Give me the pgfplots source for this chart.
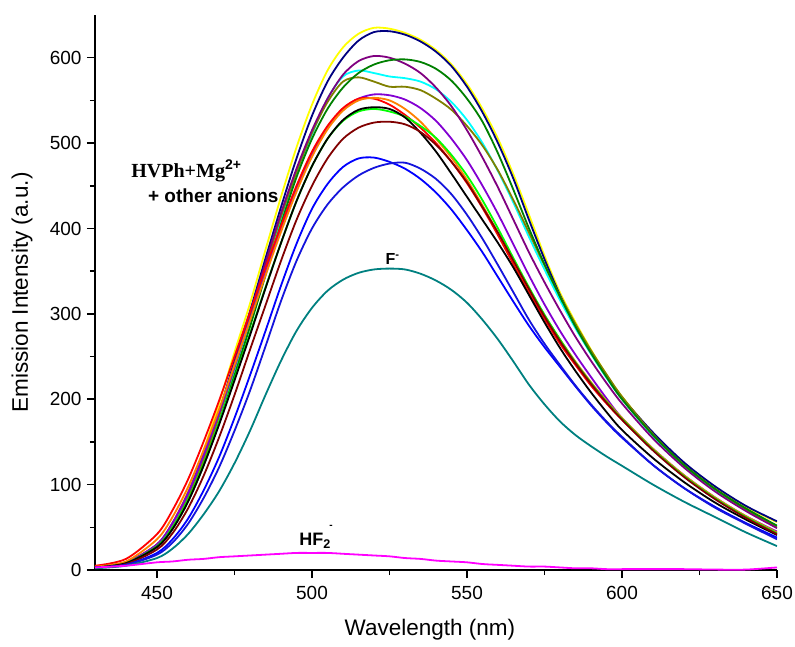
\documentclass[border=0pt]{standalone}
\usepackage{fontspec}
\setmainfont{Liberation Sans}
\newfontfamily\timesfont{Liberation Serif}
\usepackage{pgfplots}
\pgfplotsset{compat=1.18}
\usepackage{pgfplotstable}

\definecolor{cY}{RGB}{255,255,0}
\definecolor{cN}{RGB}{0,0,128}
\definecolor{cP}{RGB}{128,0,128}
\definecolor{cG}{RGB}{0,128,0}
\definecolor{cC}{RGB}{0,255,255}
\definecolor{cO}{RGB}{128,128,0}
\definecolor{cV}{RGB}{130,0,210}
\definecolor{cR}{RGB}{255,0,0}
\definecolor{cOr}{RGB}{255,128,0}
\definecolor{cK}{RGB}{0,0,0}
\definecolor{cL}{RGB}{0,255,0}
\definecolor{cB}{RGB}{128,0,0}
\definecolor{cBa}{RGB}{0,0,255}
\definecolor{cBb}{RGB}{20,20,220}
\definecolor{cT}{RGB}{0,128,128}
\definecolor{cM}{RGB}{255,0,255}

\pgfplotstableread{
x Y N P G C O V R Or K L B Ba Bb T M
430 4 3 4 3 3 3 4 5 4 3 3 3 3 3 2 3
440 9 8 9 8 8 8 9 13 10 8 8 7 6 6 5 5
450 30 27 30 27 28 28 30 42 36 27 28 24 20 18 14 9
455 55 50 55 48 50 50 55 70 62 48 50 43 36 32 25 10
460 92 85 90 80 84 84 90 106 97 80 82 72 60 54 42 12
465 140 132 135 122 128 128 134 150 140 122 124 110 93 84 65 13
470 195 185 185 172 178 180 184 198 188 170 172 155 132 120 92 15
475 255 245 242 228 234 237 238 250 240 222 224 205 178 163 125 16
480 312 303 300 285 292 296 293 302 292 275 277 258 228 210 163 17
485 375 365 360 345 352 356 348 354 345 330 331 310 280 262 205 18
490 437 425 418 405 410 414 400 403 396 383 383 362 333 315 245 19
495 495 482 470 460 462 466 447 450 443 432 432 410 382 362 280 20
500 545 532 515 505 510 512 487 490 484 473 473 450 423 400 307 20
505 585 572 552 540 552 548 518 520 516 505 505 482 452 428 327 20
510 612 600 580 565 578 572 540 541 538 527 526 505 472 448 340 19
515 628 620 596 582 585 577 552 552 550 539 537 518 482 462 348 18
520 635 630 602 592 582 572 557 552 553 542 540 524 483 471 352 17
525 634 631 600 597 578 566 556 545 550 540 537 525 478 476 353 16
530 629 627 593 598 576 566 551 533 540 530 531 522 470 477 352 14
535 621 619 582 595 572 562 541 518 525 512 520 513 458 470 347 13
540 609 607 565 587 563 552 526 500 505 490 506 498 442 458 339 11
545 592 590 543 573 548 539 505 478 483 464 486 478 422 440 328 10
550 569 566 515 552 527 520 480 453 457 437 462 454 398 416 313 9
555 540 536 483 525 500 497 450 424 427 410 433 425 372 388 293 7
560 505 500 448 488 467 468 417 392 395 383 400 395 343 357 270 6
565 463 458 410 445 430 433 381 358 362 354 365 362 314 325 244 5
570 416 410 372 400 390 395 345 325 329 322 331 329 286 293 217 4
575 368 364 337 358 352 357 311 294 298 290 299 297 261 265 194 4
580 325 322 304 320 316 321 280 265 270 260 270 268 238 240 174 3
585 290 287 273 285 283 288 252 240 244 233 243 242 215 216 158 2
590 258 256 245 254 253 257 226 216 220 208 219 218 193 194 145 2
595 229 228 219 226 225 229 201 195 198 185 197 196 173 174 133 1
600 203 202 195 200 200 203 178 176 178 164 177 176 155 156 122 1
610 160 161 154 158 157 159 142 141 142 131 141 140 123 123 100 1
620 125 126 120 123 122 123 111 110 111 103 110 109 96 96 80 1
630 97 98 92 95 94 95 85 84 85 79 84 83 74 73 62 0.5
640 74 75 69 72 71 71 63 62 63 59 62 61 55 54 44 0.5
650 56 57 49 52 51 50 45 43 44 41 43 42 38 36 28 3
}\spectra

\begin{document}
\begin{tikzpicture}
\path[use as bounding box] (-95pt,-76pt) rectangle (700pt,570pt);
\begin{axis}[
  at={(0,0)}, anchor=south west,
  scale only axis, width=682pt, height=555pt,
  xmin=430, xmax=650, ymin=0, ymax=650,
  axis lines=left,
  axis line style={-, line width=1.6pt, black},
  xtick={450,500,...,650}, ytick={0,100,...,600},
  minor x tick num=1, minor y tick num=1,
  tick align=outside,
  major tick length=8pt, minor tick length=5pt,
  every tick/.style={black, line width=1.5pt},
  tick label style={font=\fontsize{19}{19}\selectfont},
  xticklabel style={yshift=-5pt},
  yticklabel style={xshift=-2pt},
  /pgf/number format/assume math mode=true,
  /pgf/number format/1000 sep={},
  xlabel={Wavelength (nm)},
  ylabel={Emission Intensity (a.u.)},
  label style={font=\fontsize{22.5}{22.5}\selectfont},
  x label style={at={(axis description cs:0.491,-0.108)}, anchor=center},
  y label style={at={(axis description cs:-0.107,0.5)}, anchor=center},
  every axis plot/.append style={line width=1.8pt, no markers, smooth},
]
\addplot[cY] table[x=x, y=Y] {\spectra};
\addplot[cN] table[x=x, y=N] {\spectra};
\addplot[cC] table[x=x, y=C] {\spectra};
\addplot[cO] table[x=x, y=O] {\spectra};
\addplot[cP] table[x=x, y=P] {\spectra};
\addplot[cG] table[x=x, y=G] {\spectra};
\addplot[cV] table[x=x, y=V] {\spectra};
\addplot[cR] table[x=x, y=R] {\spectra};
\addplot[cOr] table[x=x, y=Or] {\spectra};
\addplot[cL] table[x=x, y=L] {\spectra};
\addplot[cK] table[x=x, y=K] {\spectra};
\addplot[cB] table[x=x, y=B] {\spectra};
\addplot[cBa] table[x=x, y=Ba] {\spectra};
\addplot[cBb] table[x=x, y=Bb] {\spectra};
\addplot[cT] table[x=x, y=T] {\spectra};
\addplot[cM] table[x=x, y=M] {\spectra};

\node[anchor=base west, font=\fontsize{20}{20}\selectfont] at (axis cs:440.6,460)
  {{\timesfont\bfseries HVPh+Mg}\textsuperscript{\bfseries 2+}};
\node[anchor=base west, font=\bfseries\fontsize{19}{19}\selectfont] at (axis cs:446,430)
  {+ other anions};
\node[anchor=base west, font=\bfseries\fontsize{16}{16}\selectfont] at (axis cs:522.6,357.5)
  {F\textsuperscript{-}};
\node[anchor=base west, font=\bfseries\fontsize{18}{18}\selectfont] at (axis cs:494.8,29)
  {HF\textsubscript{2}};
\node[anchor=base west, font=\bfseries\fontsize{10}{10}\selectfont] at (axis cs:504.5,49)
  {-};
\end{axis}
\end{tikzpicture}
\end{document}
